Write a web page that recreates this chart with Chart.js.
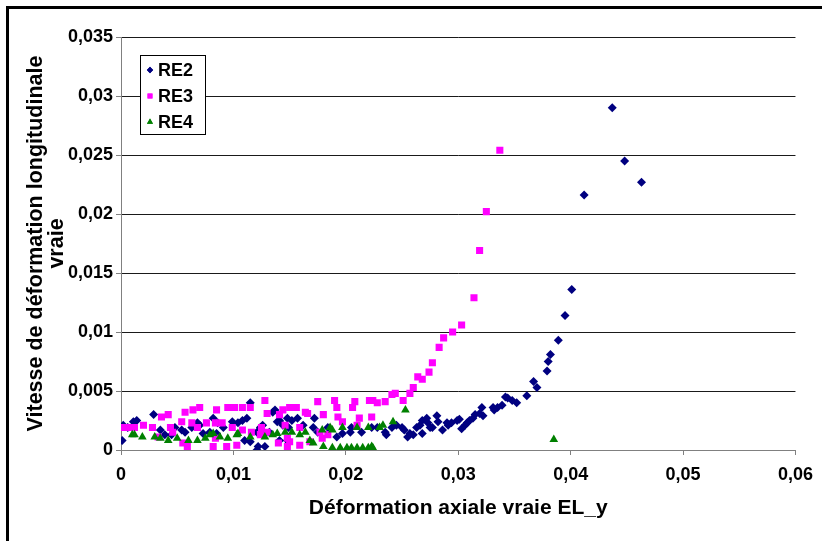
<!DOCTYPE html>
<html>
<head>
<meta charset="utf-8">
<script src="https://cdn.jsdelivr.net/npm/chart.js@4.4.0/dist/chart.umd.min.js"></script>
<style>
  html, body { margin: 0; padding: 0; background: #fff; overflow: hidden; }
  #wrap { position: relative; width: 822px; height: 541px; }
  #frame { position: absolute; left: 6px; top: 6px; width: 900px; height: 700px; border: 3px solid #000; pointer-events: none; }
</style>
</head>
<body>
<div id="wrap">
  <canvas id="chart" width="822" height="541"></canvas>
  <div id="frame"></div>
</div>
<script>
  'use strict';

  // tick values
  const xTicks = [0, 0.01, 0.02, 0.03, 0.04, 0.05, 0.06];
  const yTicks = [0, 0.005, 0.01, 0.015, 0.02, 0.025, 0.03, 0.035];

  // RE2 : [déformation axiale, vitesse]
  const re2 = [
    [0.0001,0.0008],[0.0002,0.0021],[0.0006,0.0019],[0.0011,0.0024],[0.0014,0.0025],
    [0.0029,0.0030],[0.0035,0.0017],[0.0039,0.0013],[0.0045,0.0013],[0.0048,0.0019],
    [0.0054,0.0017],[0.0057,0.0015],[0.0063,0.0019],[0.0068,0.0023],[0.0070,0.0021],
    [0.0073,0.0014],[0.0079,0.0015],[0.0082,0.0027],[0.0085,0.0014],[0.0086,0.0023],
    [0.0091,0.0019],[0.0099,0.0024],[0.0104,0.0023],[0.0108,0.0025],[0.0110,0.0008],
    [0.0112,0.0027],[0.0115,0.0040],[0.0115,0.0007],[0.0121,0.0000],[0.0121,0.0015],
    [0.0122,0.0003],[0.0124,0.0019],[0.0126,0.0021],[0.0128,0.0014],[0.0128,0.0003],
    [0.0132,0.0015],[0.0135,0.0032],[0.0137,0.0034],[0.0139,0.0024],[0.0141,0.0008],
    [0.0141,0.0025],[0.0144,0.0021],[0.0148,0.0008],[0.0148,0.0027],[0.0149,0.0019],
    [0.0152,0.0025],[0.0157,0.0027],[0.0162,0.0021],[0.0171,0.0019],[0.0172,0.0027],
    [0.0175,0.0015],[0.0184,0.0019],[0.0192,0.0011],[0.0197,0.0014],[0.0204,0.0015],
    [0.0205,0.0019],[0.0214,0.0015],[0.0223,0.0019],[0.0228,0.0019],[0.0235,0.0015],
    [0.0236,0.0013],[0.0241,0.0019],[0.0245,0.0021],[0.0250,0.0019],[0.0252,0.0017],
    [0.0255,0.0011],[0.0257,0.0014],[0.0260,0.0013],[0.0263,0.0019],[0.0266,0.0021],
    [0.0268,0.0014],[0.0268,0.0025],[0.0272,0.0027],[0.0273,0.0023],[0.0275,0.0019],
    [0.0277,0.0019],[0.0281,0.0029],[0.0282,0.0024],[0.0286,0.0017],[0.0290,0.0023],
    [0.0291,0.0021],[0.0294,0.0023],[0.0299,0.0025],[0.0301,0.0026],[0.0303,0.0018],
    [0.0306,0.0021],[0.0308,0.0023],[0.0310,0.0025],[0.0313,0.0027],[0.0315,0.0030],
    [0.0319,0.0031],[0.0321,0.0036],[0.0322,0.0029],[0.0331,0.0036],[0.0332,0.0034],
    [0.0335,0.0036],[0.0339,0.0038],[0.0342,0.0045],[0.0344,0.0044],[0.0348,0.0042],
    [0.0352,0.0040],[0.0361,0.0046],[0.0367,0.0058],[0.0370,0.0053],[0.0379,0.0067],
    [0.0380,0.0075],[0.0382,0.0081],[0.0389,0.0093],[0.0395,0.0114],[0.0401,0.0136],
    [0.0412,0.0216],[0.0437,0.0290],[0.0448,0.0245],[0.0463,0.0227]
  ];

  // RE3
  const re3 = [
    [0.0001,0.0019],[0.0006,0.0019],[0.0012,0.0019],[0.0020,0.0021],[0.0028,0.0019],
    [0.0033,0.0011],[0.0036,0.0028],[0.0042,0.0030],[0.0044,0.0019],[0.0046,0.0015],
    [0.0054,0.0024],[0.0055,0.0006],[0.0057,0.0032],[0.0059,0.0003],[0.0063,0.0023],
    [0.0064,0.0034],[0.0068,0.0019],[0.0070,0.0036],[0.0076,0.0023],[0.0082,0.0003],
    [0.0084,0.0023],[0.0084,0.0010],[0.0085,0.0034],[0.0090,0.0023],[0.0094,0.0003],
    [0.0095,0.0036],[0.0099,0.0019],[0.0101,0.0036],[0.0103,0.0004],[0.0108,0.0036],
    [0.0108,0.0017],[0.0115,0.0036],[0.0116,0.0015],[0.0124,0.0013],[0.0125,0.0019],
    [0.0128,0.0042],[0.0130,0.0031],[0.0130,0.0015],[0.0140,0.0006],[0.0141,0.0030],
    [0.0144,0.0034],[0.0146,0.0021],[0.0148,0.0010],[0.0148,0.0003],[0.0150,0.0036],
    [0.0150,0.0007],[0.0156,0.0036],[0.0159,0.0019],[0.0159,0.0004],[0.0164,0.0032],
    [0.0166,0.0031],[0.0168,0.0007],[0.0175,0.0041],[0.0177,0.0015],[0.0179,0.0010],
    [0.0180,0.0030],[0.0184,0.0013],[0.0190,0.0042],[0.0192,0.0036],[0.0193,0.0028],
    [0.0197,0.0024],[0.0206,0.0036],[0.0208,0.0041],[0.0210,0.0021],[0.0212,0.0027],
    [0.0221,0.0042],[0.0223,0.0028],[0.0224,0.0042],[0.0228,0.0040],[0.0235,0.0041],
    [0.0241,0.0047],[0.0244,0.0048],[0.0251,0.0042],[0.0257,0.0048],[0.0260,0.0053],
    [0.0264,0.0062],[0.0268,0.0060],[0.0274,0.0066],[0.0277,0.0074],[0.0283,0.0087],
    [0.0287,0.0095],[0.0295,0.0100],[0.0303,0.0106],[0.0314,0.0129],[0.0319,0.0169],
    [0.0325,0.0202],[0.0337,0.0254]
  ];

  // RE4
  const re4 = [
    [0.0010,0.0013],[0.0012,0.0013],[0.0019,0.0011],[0.0030,0.0011],[0.0035,0.0010],
    [0.0042,0.0008],[0.0050,0.0010],[0.0060,0.0008],[0.0068,0.0008],[0.0075,0.0010],
    [0.0079,0.0013],[0.0082,0.0014],[0.0088,0.0011],[0.0095,0.0010],[0.0103,0.0013],
    [0.0104,0.0014],[0.0115,0.0011],[0.0128,0.0011],[0.0135,0.0013],[0.0139,0.0014],
    [0.0146,0.0015],[0.0152,0.0015],[0.0159,0.0013],[0.0164,0.0015],[0.0168,0.0008],
    [0.0171,0.0006],[0.0179,0.0017],[0.0180,0.0003],[0.0186,0.0019],[0.0188,0.0017],
    [0.0188,0.0002],[0.0195,0.0002],[0.0197,0.0019],[0.0201,0.0002],[0.0205,0.0002],
    [0.0210,0.0019],[0.0210,0.0002],[0.0215,0.0002],[0.0220,0.0019],[0.0220,0.0002],
    [0.0223,0.0003],[0.0224,0.0002],[0.0230,0.0019],[0.0233,0.0021],[0.0242,0.0024],
    [0.0253,0.0034],[0.0385,0.0009]
  ];

  const toXY = arr => arr.map(p => ({ x: p[0], y: p[1] }));
  const fmt = v => String(+v.toFixed(3)).replace('.', ',');
  const FONT = 'Liberation Sans, Arial, sans-serif';

  // légende dessinée dans la zone du graphique
  const boxLegend = {
    id: 'boxLegend',
    afterDraw(chart) {
      const ctx = chart.ctx;
      const x0 = 140, y0 = 55, w = 65, h = 79;
      ctx.save();
      ctx.fillStyle = '#fff';
      ctx.fillRect(x0, y0, w, h);
      ctx.strokeStyle = '#000';
      ctx.lineWidth = 1;
      ctx.strokeRect(x0 + 0.5, y0 + 0.5, w, h);
      ctx.font = 'bold 18px ' + FONT;
      ctx.textBaseline = 'middle';
      chart.data.datasets.forEach((ds, i) => {
        const cy = 70 + i * 26;
        ctx.fillStyle = ds.backgroundColor;
        Chart.helpers.drawPoint(ctx, { pointStyle: ds.pointStyle, radius: ds.pointRadius * 0.7, borderWidth: 0 }, 150, cy);
        ctx.fill();
        ctx.fillStyle = '#000';
        ctx.fillText(ds.label, 158, cy + 1);
      });
      ctx.restore();
    }
  };

  new Chart(document.getElementById('chart'), {
    type: 'scatter',
    data: {
      datasets: [{
        label: 'RE2',
        data: toXY(re2),
        pointStyle: 'rectRot',
        pointRadius: 4.5,
        backgroundColor: '#000080',
        borderWidth: 0,
        order: 3
      }, {
        label: 'RE3',
        data: toXY(re3),
        pointStyle: 'rect',
        pointRadius: 5,
        backgroundColor: '#ff00ff',
        borderWidth: 0,
        order: 2
      }, {
        label: 'RE4',
        data: toXY(re4),
        pointStyle: 'triangle',
        pointRadius: 5,
        backgroundColor: '#008000',
        borderWidth: 0,
        order: 1
      }]
    },
    options: {
      responsive: false,
      animation: false,
      events: [],
      layout: { padding: { top: 37, right: 26, left: 0, bottom: 0 } },
      plugins: { legend: { display: false }, tooltip: { enabled: false } },
      scales: {
        x: {
          type: 'linear',
          min: 0,
          max: 0.06,
          afterBuildTicks: s => { s.ticks = xTicks.map(v => ({ value: v })); },
          afterFit: s => { s.height = 91; },
          grid: { drawOnChartArea: false, drawTicks: true, tickLength: 5, color: '#808080', tickColor: '#808080' },
          border: { color: '#808080', width: 1 },
          ticks: { color: '#000', padding: 9, maxRotation: 0, font: { family: FONT, size: 18, weight: 'bold' }, callback: v => fmt(v) },
          title: { display: true, text: 'Déformation axiale vraie EL_y', color: '#000', padding: { top: 0, bottom: 20 }, font: { family: FONT, size: 21, weight: 'bold' } }
        },
        y: {
          type: 'linear',
          min: 0,
          max: 0.035,
          afterBuildTicks: s => { s.ticks = yTicks.map(v => ({ value: v })); },
          afterFit: s => { s.width = 121; },
          grid: { color: ctx => ctx.tick && ctx.tick.value === 0 ? '#808080' : '#1a1a1a', tickLength: 5, tickColor: '#808080' },
          border: { color: '#808080', width: 1 },
          ticks: { color: '#000', padding: 3, font: { family: FONT, size: 18, weight: 'bold' }, callback: v => fmt(v) },
          title: { display: true, text: ['Vitesse de déformation longitudinale', 'vraie'], color: '#000', padding: { top: 25, bottom: 0 }, font: { family: FONT, size: 21.5, weight: 'bold', lineHeight: 1 } }
        }
      }
    },
    plugins: [boxLegend]
  });
</script>
</body>
</html>
